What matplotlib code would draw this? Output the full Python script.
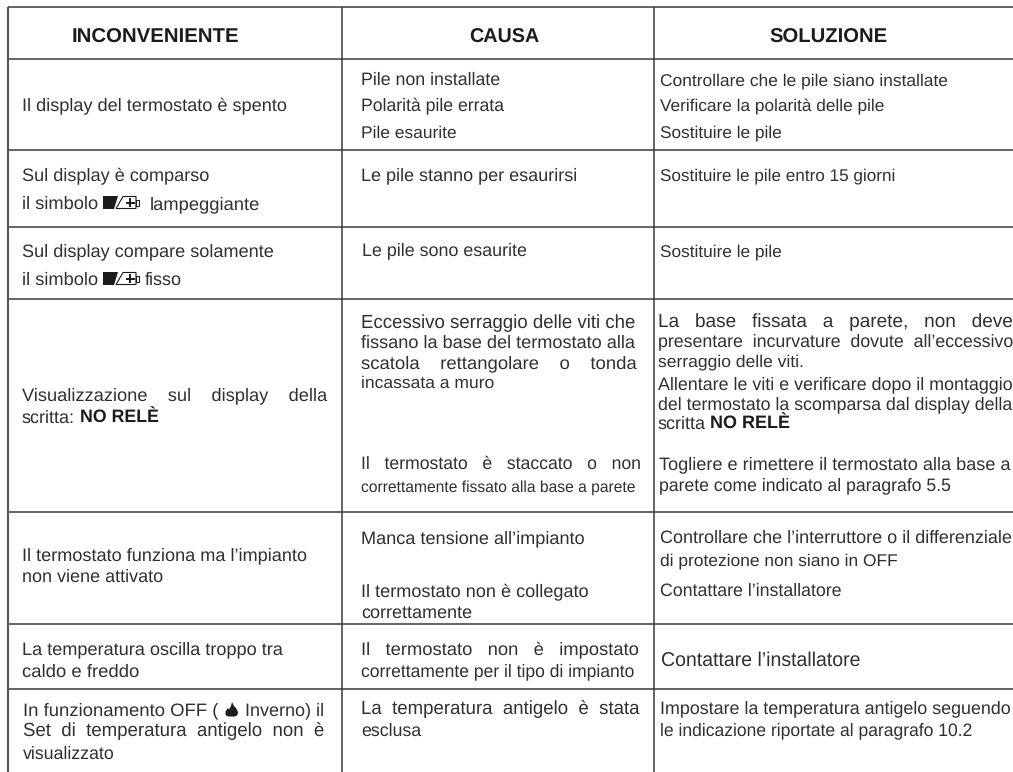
import matplotlib
matplotlib.use("Agg")
import matplotlib.pyplot as plt
from matplotlib.patches import Polygon, Rectangle

# -------------------------------
# Table text
# -------------------------------
header_text = ["INCONVENIENTE", "CAUSA", "SOLUZIONE"]

col1_text = [
    "Il display del termostato è spento",
    "Sul display è comparso",
    "il simbolo",
    "lampeggiante",
    "Sul display compare solamente",
    "il simbolo",
    "fisso",
    "Visualizzazione sul display della",
    "scritta:",
    "Il termostato funziona ma l’impianto",
    "non viene attivato",
    "La temperatura oscilla troppo tra",
    "caldo e freddo",
    "In funzionamento OFF (",
    "Inverno) il",
    "Set di temperatura antigelo non è",
    "visualizzato",
]

col2_text = [
    "Pile non installate",
    "Polarità pile errata",
    "Pile esaurite",
    "Le pile stanno per esaurirsi",
    "Le pile sono esaurite",
    "Eccessivo serraggio delle viti che",
    "fissano la base del termostato alla",
    "scatola rettangolare o tonda",
    "incassata a muro",
    "Il termostato è staccato o non",
    "correttamente fissato alla base a parete",
    "Manca tensione all’impianto",
    "Il termostato non è collegato",
    "correttamente",
    "Il termostato non è impostato",
    "correttamente per il tipo di impianto",
    "La temperatura antigelo è stata",
    "esclusa",
]

col3_text = [
    "Controllare che le pile siano installate",
    "Verificare la polarità delle pile",
    "Sostituire le pile",
    "Sostituire le pile entro 15 giorni",
    "Sostituire le pile",
    "La base fissata a parete, non deve",
    "presentare incurvature dovute all’eccessivo",
    "serraggio delle viti.",
    "Allentare le viti e verificare dopo il montaggio",
    "del termostato la scomparsa dal display della",
    "scritta",
    "Togliere e rimettere il termostato alla base a",
    "parete come indicato al paragrafo 5.5",
    "Controllare che l’interruttore o il differenziale",
    "di protezione non siano in OFF",
    "Contattare l’installatore",
    "Contattare l’installatore",
    "Impostare la temperatura antigelo seguendo",
    "le indicazione riportate al paragrafo 10.2",
]

bold_text = ["NO RELÈ", "NO RELÈ"]

# lines set justified in the original, their word gaps are wider
justified = [
    "Visualizzazione sul display della",
    "In funzionamento OFF (",
    "Set di temperatura antigelo non è",
    "Eccessivo serraggio delle viti che",
    "scatola rettangolare o tonda",
    "Il termostato è staccato o non",
    "Il termostato non è impostato",
    "La temperatura antigelo è stata",
    "La base fissata a parete, non deve",
    "presentare incurvature dovute all’eccessivo",
]

# -------------------------------
# Layout in pixels: left, right, baseline
# -------------------------------
header_pos = [(72, 239, 42.7), (469, 539, 42.7), (769, 887, 42.7)]

col1_pos = [
    (22, 288, 110), (22, 210, 180), (22, 98, 209), (150, 260, 209),
    (22, 275, 256), (22, 98, 285), (145, 182, 285), (22, 328, 400),
    (22, 75, 423), (22, 308, 560), (22, 163, 582), (22, 284, 654),
    (22, 139, 676.7), (23, 218, 715), (245, 324, 715), (23, 324, 735.7),
    (23, 115, 759),
]

col2_pos = [
    (361, 500, 85), (361, 504, 110.7), (361, 457, 137.7), (361, 577, 180.7),
    (362, 527, 255), (361, 636, 327.7), (361, 636, 348), (361, 636, 368),
    (361, 494, 387.7), (361, 642, 469), (361, 636, 492), (361, 585, 543),
    (361, 589, 596), (361, 472, 618), (361, 639, 654), (361, 635, 676),
    (361, 640, 714), (361, 421, 735.7),
]

col3_pos = [
    (660, 948, 85), (660, 885, 111.7), (660, 782, 137.7), (660, 896, 180),
    (660, 782, 256), (658, 1012, 326.7), (658, 1012, 346.7), (658, 804, 366.7),
    (658, 1012, 389), (658, 1012, 409), (658, 706, 429), (659, 1012, 469),
    (659, 951, 490), (660, 1012, 543), (660, 897, 565.7), (660, 842, 596),
    (661, 861, 666), (660, 1010, 713), (660, 973, 735),
]

bold_pos = [(80, 159, 423), (710, 790, 429)]

h_lines = [6.7, 58.7, 150, 226.7, 299, 511.7, 624.3, 688.7]
v_lines = [341.7, 653.7]
left_border = 7.7
battery_pos = [(103, 196), (103, 272)]

BASE_SIZE = 12.6
TEXT_COLOR = "#303030"
LINE_COLOR = "#3a3a3a"

plt.rcParams["font.family"] = ["Liberation Sans", "DejaVu Sans"]
plt.rcParams["text.hinting"] = "none"

fig = plt.figure(figsize=(10.13, 7.72), dpi=100)
ax = fig.add_axes([0, 0, 1, 1])
ax.set_xlim(0, 1013)
ax.set_ylim(772, 0)
ax.axis("off")
renderer = fig.canvas.get_renderer()


def put_line(text, pos, weight="normal", color=TEXT_COLOR, base=BASE_SIZE):
    # pad the gaps when the line is justified, then fit the size to the width
    x0, x1, y = pos
    target = x1 - x0
    t = ax.text(x0, y, text, fontsize=base, fontweight=weight, color=color,
                ha="left", va="baseline")
    if text in justified:
        natural = t.get_window_extent(renderer).width
        t.set_text("x x")
        space = t.get_window_extent(renderer).width
        t.set_text("xx")
        space -= t.get_window_extent(renderer).width
        extra = int((target - natural) / (text.count(" ") * space))
        text = text.replace(" ", " " * (max(extra, 0) + 1))
    t.set_text(text)
    width = t.get_window_extent(renderer).width
    t.set_fontsize(base * target / width)


# -------------------------------
# Grid lines
# -------------------------------
for y in h_lines:
    ax.plot([7.7, 1013], [y, y], color=LINE_COLOR, lw=1.1, solid_capstyle="butt")
for x in v_lines:
    ax.plot([x, x], [6.7, 772], color=LINE_COLOR, lw=1.1, solid_capstyle="butt")
ax.plot([left_border, left_border], [6.7, 772], color="#555555", lw=1.5,
        solid_capstyle="butt")

# -------------------------------
# Text
# -------------------------------
for text, pos in zip(header_text, header_pos):
    put_line(text, pos, weight="bold", color="#1c1c1c", base=13)
for text, pos in zip(col1_text, col1_pos):
    put_line(text, pos)
for text, pos in zip(col2_text, col2_pos):
    put_line(text, pos)
for text, pos in zip(col3_text, col3_pos):
    put_line(text, pos)
for text, pos in zip(bold_text, bold_pos):
    put_line(text, pos, weight="bold", color="#1c1c1c")

# -------------------------------
# Battery and flame symbols
# -------------------------------
for bx, by in battery_pos:
    ax.add_patch(Polygon([(bx, by), (bx + 15, by), (bx + 11, by + 13), (bx, by + 13)],
                         closed=True, color="#1c1c1c", lw=0))
    ax.add_patch(Polygon([(bx + 20, by + 0.5), (bx + 33, by + 0.5), (bx + 33, by + 12.5),
                          (bx + 13, by + 12.5)],
                         closed=True, fill=False, edgecolor="#1c1c1c", lw=0.8))
    ax.add_patch(Rectangle((bx + 33, by + 3.5), 3, 6, fill=False,
                           edgecolor="#1c1c1c", lw=0.8))
    ax.plot([bx + 23.5, bx + 31], [by + 6.5, by + 6.5], color="#1c1c1c", lw=1.4)
    ax.plot([bx + 27.2, bx + 27.2], [by + 3, by + 10], color="#1c1c1c", lw=1.4)

flame = [(232, 702), (234, 706), (236, 708), (238, 712), (237.5, 715), (235, 716.5),
         (228, 716.5), (225.5, 715), (225.5, 711.5), (228, 708), (229, 709.5),
         (231, 706)]
ax.add_patch(Polygon(flame, closed=True, color="#1c1c1c", lw=0))

fig.savefig("out.png", dpi=100)
